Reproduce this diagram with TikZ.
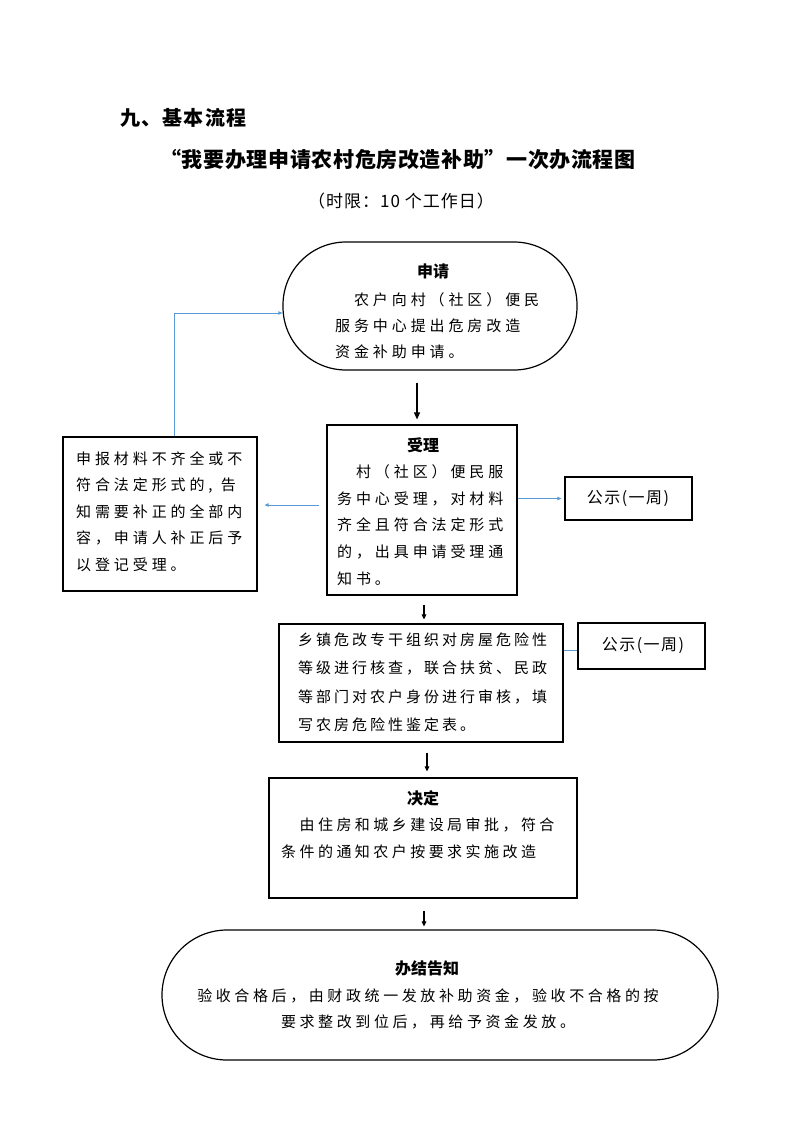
\documentclass[tikz,border=0pt]{standalone}
\usepackage{fontspec}
\setmainfont{Noto Sans CJK SC}
\usetikzlibrary{arrows.meta}
\definecolor{fblue}{HTML}{5B9BD5}
\tikzset{
  box/.style={draw, line width=1.2pt, rectangle, inner sep=0pt},
  stad/.style={draw, line width=1.2pt, rectangle, rounded corners=#1, inner sep=0pt},
  ttl/.style={font=\fontsize{16}{20}\selectfont\bfseries, inner sep=0pt},
  body/.style n args={2}{font=\fontsize{15}{#1}\selectfont\addfontfeature{LetterSpace=#2}, align=left, inner sep=0pt, anchor=north west},
  pubtxt/.style={inner sep=0pt, font=\fontsize{16}{20}\selectfont\addfontfeature{LetterSpace=9}},
  flow/.style={-{Triangle[length=7pt,width=6pt]}, line width=1.1pt},
  bflow/.style={-{Triangle[length=4pt,width=3.5pt]}, fblue, line width=0.9pt},
  bline/.style={fblue, line width=0.9pt},
}
\begin{document}
\begin{tikzpicture}[x=1pt,y=-1pt]
\useasboundingbox (0,0) rectangle (793,1122);

% headings
\node[anchor=west, inner sep=0pt, font=\fontsize{20}{24}\selectfont\bfseries\addfontfeature{LetterSpace=6}] (h1) at (120,118) {九、基本流程};
\node[inner sep=0pt, font=\fontsize{21}{25}\selectfont\bfseries\addfontfeature{LetterSpace=3}] (h2) at (398,160) {“我要办理申请农村危房改造补助”一次办流程图};
\node[inner sep=0pt, font=\fontsize{17}{20}\selectfont\addfontfeature{LetterSpace=6}] (h3) at (401,201) {（时限：10 个工作日）};

% shapes
\node[stad=63pt, minimum width=294pt, minimum height=128pt] (apply) at (430,306) {};
\node[box, minimum width=190pt, minimum height=170pt] (accept) at (422,510) {};
\node[box, minimum width=194pt, minimum height=154pt] (reject) at (160,514) {};
\node[box, minimum width=127pt, minimum height=43pt] (pub1) at (628.5,498.5) {};
\node[box, minimum width=284pt, minimum height=118pt] (check) at (421,683) {};
\node[box, minimum width=127pt, minimum height=46pt] (pub2) at (641.5,646) {};
\node[box, minimum width=308pt, minimum height=120pt] (decide) at (423,838) {};
\node[stad=65pt, minimum width=556pt, minimum height=130pt] (final) at (440,995) {};

% texts
\node[ttl] (applyt) at (433,271) {申请};
\node[body={26}{26}] (applyb) at (335,292) {　农户向村（社区）便民\\服务中心提出危房改造\\资金补助申请。};

\node[ttl] (acceptt) at (423,445) {受理};
\node[body={26.7}{26}] (acceptb) at (337,464.5) {　村（社区）便民服\\务中心受理，对材料\\齐全且符合法定形式\\的，出具申请受理通\\知书。};

\node[body={26.5}{26}] (rejectb) at (76,451.5) {申报材料不齐全或不\\符合法定形式的,\hspace{0.55em}告\\知需要补正的全部内\\容，申请人补正后予\\以登记受理。};

\node[pubtxt] (pub1t) at (628,498.5) {公示(一周)};
\node[pubtxt] (pub2t) at (643,646) {公示(一周)};

\node[body={28.3}{20}] (checkb) at (298,632.5) {乡镇危改专干组织对房屋危险性\\等级进行核查，联合扶贫、民政\\等部门对农户身份进行审核，填\\写农房危险性鉴定表。};

\node[ttl] (decidet) at (423,798) {决定};
\node[body={27}{23}] (decideb) at (281,817.5) {　由住房和城乡建设局审批，符合\\条件的通知农户按要求实施改造};

\node[ttl] (finalt) at (427,968) {办结告知};
\node[body={26.5}{24}, anchor=north, align=center] (finalb) at (428,988.5) {验收合格后，由财政统一发放补助资金，验收不合格的按\\要求整改到位后，再给予资金发放。};

% connectors
\coordinate (a1) at ([xshift=-13pt,yshift=-12pt]apply.south);
\draw[flow, shorten >=5pt] (a1) -- (a1 |- accept.north);

\coordinate (c1) at (pub1.west);
\draw[bflow, shorten >=3pt] (c1 -| accept.east) -- (c1);

\coordinate (c3) at ([yshift=9pt]reject.east);
\draw[bflow, shorten <=7pt, shorten >=7pt] (c3 -| accept.west) -- (c3);

\coordinate (c4) at ([xshift=14pt]reject.north);
\coordinate (c5) at ([yshift=-7pt]apply.west);
\draw[bflow] (c4) -- (c4 |- c5) -- (c5);

\coordinate (d1) at ([xshift=2pt]accept.south);
\draw[flow, -{Triangle[length=5pt,width=4.5pt]}, shorten <=9pt, shorten >=4pt] (d1) -- (d1 |- check.north);

\coordinate (c2) at ([yshift=-4pt]pub2.west);
\draw[bline] (c2 -| check.east) -- (c2);

\coordinate (d2) at ([xshift=6pt]check.south);
\draw[flow, -{Triangle[length=5pt,width=4.5pt]}, shorten <=10pt, shorten >=6pt] (d2) -- (d2 |- decide.north);

\coordinate (d3) at ([xshift=1pt]decide.south);
\draw[flow, -{Triangle[length=5pt,width=4.5pt]}, shorten <=12pt, shorten >=3pt] (d3) -- (d3 |- final.north);
\end{tikzpicture}
\end{document}
